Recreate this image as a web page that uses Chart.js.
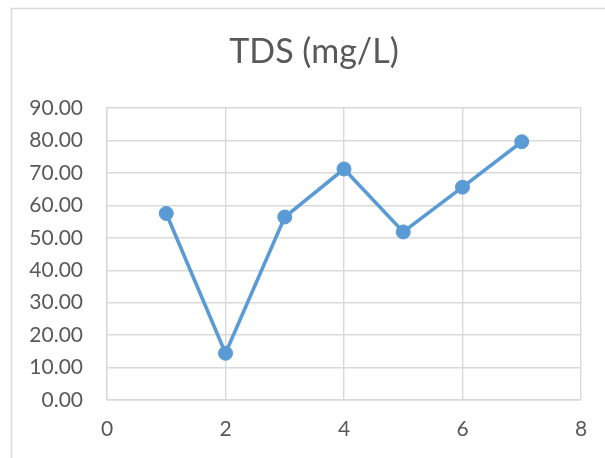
<!DOCTYPE html>
<html>
<head>
<meta charset="utf-8">
<script src="https://cdn.jsdelivr.net/npm/chart.js@4/dist/chart.umd.min.js"></script>
<style>
  html, body { margin: 0; padding: 0; background: #ffffff; }
  #wrap { width: 605px; height: 458px; }
</style>
</head>
<body>
<div id="wrap"><canvas id="c" width="605" height="458"></canvas></div>
<script>
// Sample number and measured TDS
const samples = [1, 2, 3, 4, 5, 6, 7];
const tdsValues = [57.5, 14.4, 56.4, 71.2, 51.8, 65.6, 79.6];
const chartTitle = 'TDS (mg/L)';

const points = samples.map((s, i) => ({ x: s, y: tdsValues[i] }));

const textColor = '#595959';
const gridColor = '#d9d9d9';
const seriesColor = '#5b9bd5';
const fontFamily = 'Lato, "Open Sans", sans-serif';

// Spreadsheet-style chart frame plus a title centred on the frame
const frame = {
  id: 'frame',
  beforeDraw(chart) {
    const ctx = chart.ctx;
    ctx.save();
    ctx.fillStyle = '#ffffff';
    ctx.fillRect(0, 0, chart.width, chart.height);
    ctx.strokeStyle = gridColor;
    ctx.lineWidth = 1.5;
    ctx.strokeRect(11.5, 8.5, chart.width + 20, chart.height + 20);
    ctx.restore();
  },
  afterDraw(chart) {
    const ctx = chart.ctx;
    ctx.save();
    ctx.fillStyle = textColor;
    ctx.font = '34px ' + fontFamily;
    ctx.textAlign = 'center';
    ctx.textBaseline = 'middle';
    ctx.fillText(chartTitle, (11 + 617) / 2, 52);
    ctx.restore();
  }
};

new Chart(document.getElementById('c'), {
  type: 'scatter',
  data: {
    datasets: [{
      data: points,
      showLine: true,
      borderColor: seriesColor,
      backgroundColor: seriesColor,
      borderWidth: 3.6,
      pointRadius: 7,
      pointBorderWidth: 1,
      pointHoverRadius: 7,
      tension: 0
    }]
  },
  options: {
    responsive: false,
    animation: false,
    devicePixelRatio: 1,
    layout: { padding: { left: 0, right: 24, top: 108, bottom: 0 } },
    plugins: {
      legend: { display: false },
      tooltip: { enabled: false },
      title: { display: false }
    },
    scales: {
      x: {
        type: 'linear',
        min: 0,
        max: 8,
        ticks: {
          stepSize: 2,
          color: textColor,
          padding: 17,
          font: { family: fontFamily, size: 21 }
        },
        grid: { color: gridColor, lineWidth: 1.4, drawTicks: false },
        border: { color: gridColor, width: 1.4 },
        afterFit(scale) { scale.height = 58; }
      },
      y: {
        type: 'linear',
        min: 0,
        max: 90,
        ticks: {
          stepSize: 10,
          color: textColor,
          padding: 24,
          font: { family: fontFamily, size: 21 },
          callback: (v) => Number(v).toFixed(2)
        },
        grid: { color: gridColor, lineWidth: 1.4, drawTicks: false },
        border: { color: gridColor, width: 1.4 },
        afterFit(scale) { scale.width = 107; }
      }
    }
  },
  plugins: [frame]
});
</script>
</body>
</html>
